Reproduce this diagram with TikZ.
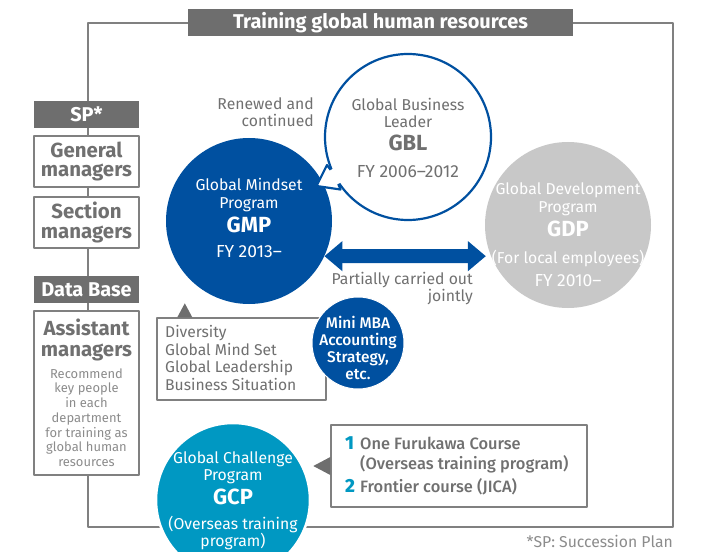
\documentclass[tikz,border=0pt]{standalone}
\usepackage{fontspec}
\setmainfont{Fira Sans}
\newfontfamily\medfont{Fira Sans Medium}
\usetikzlibrary{arrows.meta,calc}

\definecolor{fkblue}{RGB}{0,80,160}
\definecolor{fkgray}{RGB}{110,110,110}
\definecolor{fkline}{RGB}{128,128,128}
\definecolor{fklight}{RGB}{200,200,200}
\definecolor{fkteal}{RGB}{0,152,194}
\definecolor{fktext}{RGB}{112,112,112}
\definecolor{fksoft}{RGB}{140,140,140}

\newcommand{\abbrfont}{\bfseries\fontsize{22}{22}\selectfont}
\newcommand{\yearfont}{\fontsize{17.5}{18}\selectfont}
\newcommand{\numtag}[1]{\makebox[15bp][l]{\textcolor{fkteal}{\bfseries\fontsize{19}{19}\selectfont #1}}}

\begin{document}
\begin{tikzpicture}[x=1bp, y=-1bp, line join=round,
  frameline/.style={draw=fkline, line width=1.6bp},
  headbar/.style={fill=fkgray, text=white, inner sep=0pt, font=\bfseries\fontsize{20}{20}\selectfont},
  rankbox/.style={draw=fkline, fill=white, line width=1.4bp, inner sep=0pt, minimum width=105bp, align=center, text=fktext, font=\bfseries\fontsize{20.5}{20}\selectfont},
  blob/.style={circle, inner sep=0pt, minimum size=#1},
  blobtext/.style={align=center, inner sep=0pt, font=\fontsize{15.8}{18}\selectfont},
  notebox/.style={draw=fkline, fill=white, line width=1.4bp, inner sep=0pt},
  notetext/.style={align=left, inner sep=0pt, text=fktext, font=\fontsize{15.7}{17.5}\selectfont},
  pointer/.style={fill=fkgray},
  jointarrow/.style={draw=fkblue, line width=14bp, arrows={Triangle[length=18bp,width=29bp]-Triangle[length=18bp,width=29bp]}},
  plain/.style={inner sep=0pt, text=fktext, font=\fontsize{15.8}{17}\selectfont}
]
\clip (0,0) rectangle (703,552);
\useasboundingbox (0,0) rectangle (703,552);

% Frame and title
\draw[frameline] (88,23) rectangle (673,527);
\node[headbar, minimum width=385bp, minimum height=27bp] (title) at (380.5,22.5) {Training global human resources};

% Left column
\node[headbar, minimum width=105bp, minimum height=27bp] (sp) at (86.5,114.5) {SP*};
\node[rankbox, minimum height=51bp] (gm) at (86.5,161.5) {General\\managers};
\node[rankbox, minimum height=51bp] (sm) at (86.5,222.5) {Section\\managers};
\node[headbar, minimum width=105bp, minimum height=27bp] (db) at (86.5,289.5) {Data Base};
\node[rankbox, minimum height=164bp, font=\fontsize{13}{14.8}\selectfont, text=fksoft] (am) at (86.5,393)
  {\bfseries\fontsize{20.5}{20}\selectfont\color{fktext}Assistant\\[6bp]
   \bfseries\fontsize{20.5}{20}\selectfont\color{fktext}managers\\[7bp]
   Recommend\\key people\\in each\\department\\for training as\\global human\\resources};

% Circles
\node[blob=166bp, draw=fkblue, line width=2.2bp, fill=white] (gbl) at (408,137) {};
\node[blob=166bp, fill=fkblue] (gmp) at (249,221) {};
\node[blob=166bp, fill=fklight] (gdp) at (568,225) {};

% Renewed and continued
\coordinate (renewtip) at (316.5,186);
\coordinate (renewwa) at (327,165);
\coordinate (renewwb) at (340.5,189.5);
\fill[white] (gbl.203) -- (renewwa) -- (renewtip) -- (renewwb) -- (gbl.214)
  -- ($(gbl.center)!0.9!(gbl.214)$) -- ($(gbl.center)!0.9!(gbl.203)$) -- cycle;
\draw[fkblue, line width=2.2bp] (gbl.203) -- (renewwa) -- (renewtip) -- (renewwb) -- (gbl.214);

% Partially carried out jointly
\draw[jointarrow, shorten >=5bp] (gmp.-25) -- (gdp.202);

% Circle texts
\node[blobtext, text=fktext] (gbltext) at (408,138)
  {Global Business\\[-1bp]Leader\\[5bp]\abbrfont GBL\\[9bp]\yearfont FY 2006--2012};
\node[blobtext, text=white] (gmptext) at (249,218)
  {Global Mindset\\Program\\[5bp]\abbrfont GMP\\[7bp]\yearfont FY 2013--};
\node[blobtext, text=white] (gdptext) at (568,235)
  {Global Development\\Program\\[4bp]\abbrfont GDP\\[9bp](For local employees)\\[5bp]\yearfont FY 2010--};

\node[plain, align=right, anchor=east] (renewed) at (314,112.5) {Renewed and\\continued};
\node[plain, align=right, anchor=east] (jointly) at (473,288.5) {Partially carried out\\jointly};

% Training contents
\node[notebox, minimum width=169bp, minimum height=82bp] (divbox) at (241.5,359) {};
\fill[pointer] ($(divbox.north west)+(21,0)$) -- ++(7.5,-14) -- ++(7.5,14) -- cycle;
\node[notetext, anchor=west] (divtext) at (165,358)
  {Diversity\\Global Mind Set\\Global Leadership\\Business Situation};

\node[blob=92bp, fill=fkblue, draw=white, line width=1bp] (mba) at (358,343) {};
\node[blobtext, text=white, font=\medfont\fontsize{15.5}{17.3}\selectfont] (mbatext) at (358,348)
  {Mini MBA\\Accounting\\Strategy,\\etc.};

% Overseas
\node[blob=154bp, fill=fkteal, draw=white, line width=2.5bp] (gcp) at (233,500) {};
\node[blobtext, text=white] (gcptext) at (233,501)
  {Global Challenge\\[-1bp]Program\\[4bp]\abbrfont GCP\\[7bp](Overseas training\\[-1bp]program)};

\node[notebox, minimum width=256bp, minimum height=82bp] (listbox) at (459,466) {};
\fill[pointer] ($(listbox.west)+(0,-9)$) -- ++(-17,9) -- ++(17,9) -- cycle;
\node[notetext, anchor=west, font=\medfont\fontsize{16.5}{20}\selectfont] (listtext) at (345,466)
  {\numtag{1}One Furukawa Course\\\hphantom{\numtag{1}}(Overseas training program)\\[3bp]\numtag{2}Frontier course (JICA)};

% Note
\node[plain, anchor=east, text=fksoft] (note) at (673,541) {*SP: Succession Plan};
\end{tikzpicture}
\end{document}
